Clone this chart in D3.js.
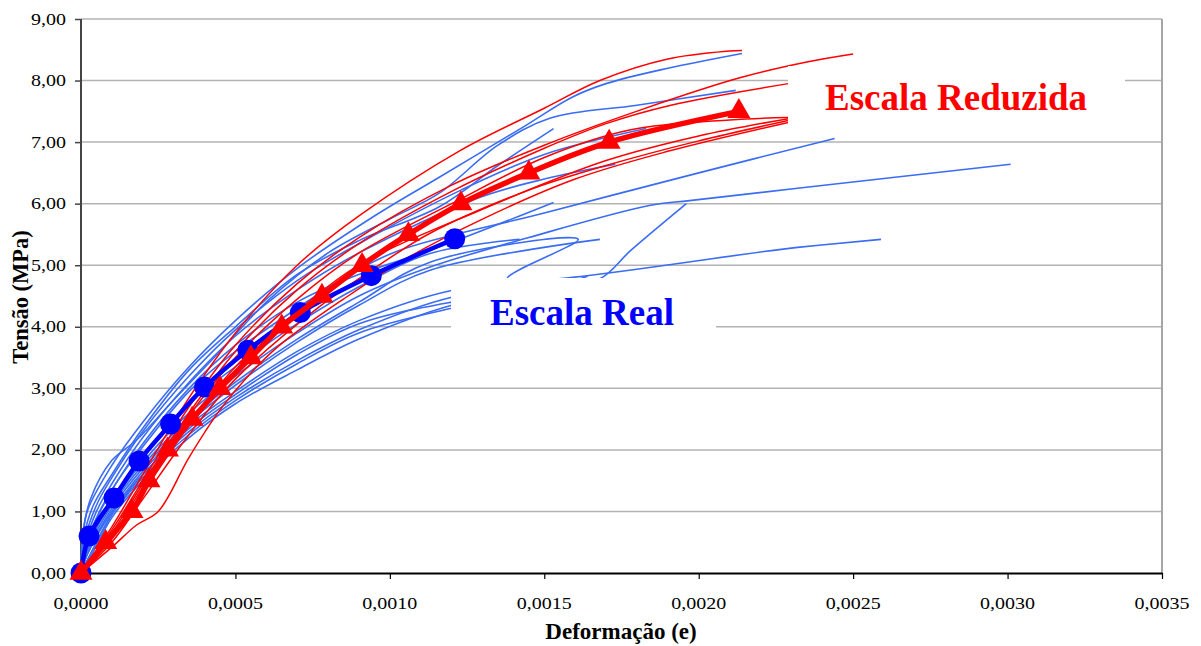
<!DOCTYPE html>
<html>
<head>
<meta charset="utf-8">
<script src="https://cdn.jsdelivr.net/npm/d3@7"></script>
<style>
  body { margin: 0; background: #fff; }
  svg { display: block; }
</style>
</head>
<body>
<div id="chart"></div>
<script>
// axis ticks
var xTicks = [0, 0.0005, 0.0010, 0.0015, 0.0020, 0.0025, 0.0030, 0.0035];
var yTicks = [0, 1, 2, 3, 4, 5, 6, 7, 8, 9];

// mean curves (thick, with markers)
var mediaReal = [[0,0],[0.000026,0.6],[0.000107,1.22],[0.000188,1.82],[0.00029,2.42],[0.0004,3.02],[0.00054,3.62],[0.00071,4.23],[0.00094,4.83],[0.00121,5.43]];
var mediaReduzida = [[0,0],[0.00008,0.5],[0.000165,1.0],[0.00022,1.5],[0.00028,2.0],[0.00036,2.5],[0.00045,3.0],[0.00055,3.5],[0.00065,4.0],[0.00078,4.5],[0.00091,5.0],[0.00106,5.5],[0.00123,6.0],[0.00145,6.5],[0.00171,7.0],[0.00213,7.5]];

// individual specimens - escala real (blue)
var real1 = [[0,0],[0.000005,0.5],[0.00002,1.0],[0.0001,1.75],[0.0002,2.45],[0.00035,3.35],[0.0005,4.1],[0.0007,4.95],[0.00095,5.8],[0.00116,6.43],[0.00143,7.24],[0.00159,7.73],[0.0017,7.95],[0.0019,8.2],[0.00214,8.44]];
var real2 = [[0,0],[0.000005,0.6],[0.00003,1.19],[0.0001,1.83],[0.00018,2.16],[0.0003,2.81],[0.00045,3.6],[0.0006,4.4],[0.0008,5.2],[0.001,5.75],[0.00116,6.17],[0.00135,6.95],[0.00152,7.39],[0.0018,7.6],[0.00212,7.84]];
var real3 = [[0,0],[0.00001,0.6],[0.00004,1.1],[0.0001,1.6],[0.0002,2.35],[0.00035,3.3],[0.0005,4.0],[0.0007,4.85],[0.0009,5.4],[0.00116,5.95],[0.00135,6.62],[0.00153,7.22]];
var real4 = [[0,0],[0.00001,0.5],[0.00005,1.1],[0.0001,1.55],[0.0002,2.3],[0.00035,3.2],[0.0005,3.95],[0.0007,4.75],[0.0009,5.35],[0.00123,6.22],[0.0015,6.8],[0.00183,7.22]];
var real5 = [[0,0],[0.00001,0.4],[0.00005,1.0],[0.0001,1.45],[0.0002,2.2],[0.00035,3.1],[0.0005,3.85],[0.0007,4.6],[0.0009,5.2],[0.00129,6.1],[0.0015,6.4],[0.00173,6.64]];
var real6 = [[0,0],[0.00002,0.5],[0.00006,1.0],[0.0001,1.35],[0.0002,2.1],[0.00035,3.0],[0.0005,3.7],[0.0007,4.4],[0.0009,4.85],[0.00113,5.24],[0.00153,6.02]];
var real7 = [[0,0],[0.00002,0.5],[0.0001,1.35],[0.0002,2.05],[0.00035,2.95],[0.0005,3.6],[0.0007,4.3],[0.00087,4.85],[0.00103,5.24],[0.0015,5.85],[0.002,6.5],[0.00244,7.06]];
var real8 = [[0,0],[0.00002,0.4],[0.0001,1.15],[0.0002,1.8],[0.00035,2.6],[0.0005,3.2],[0.0007,3.9],[0.0009,4.5],[0.00113,4.97],[0.00145,5.45],[0.00184,5.97],[0.00197,6.05],[0.00232,6.25],[0.00301,6.64]];
var real9 = [[0,0],[0.00002,0.35],[0.0001,1.1],[0.0002,1.75],[0.00035,2.5],[0.0005,3.1],[0.0007,3.8],[0.0009,4.4],[0.00113,5.05],[0.00161,5.42],[0.00138,4.78],[0.00232,5.29],[0.00259,5.42]];
var real10 = [[0,0],[0.00002,0.3],[0.0001,1.0],[0.0002,1.6],[0.00035,2.35],[0.0005,2.9],[0.0007,3.55],[0.0009,4.05],[0.0012,4.4],[0.0015,4.6],[0.00168,4.78],[0.00178,5.24],[0.00196,6.0]];
var real11 = [[0,0],[0.00002,0.4],[0.0001,1.2],[0.0002,1.9],[0.00035,2.75],[0.0005,3.35],[0.0007,4.05],[0.0009,4.65],[0.00113,5.19],[0.00142,5.42]];
var real12 = [[0,0],[0.00002,0.3],[0.0001,1.05],[0.0002,1.7],[0.00035,2.45],[0.0005,3.05],[0.0007,3.75],[0.0009,4.35],[0.00113,4.92],[0.00168,5.42]];
var real13 = [[0,0],[0.00002,0.3],[0.0001,1.0],[0.0002,1.65],[0.00035,2.4],[0.0005,2.95],[0.0007,3.6],[0.0009,4.1],[0.0012,4.59],[0.0014,4.7]];
var real14 = [[0,0],[0.00003,0.3],[0.0001,0.95],[0.0002,1.6],[0.00035,2.3],[0.0005,2.85],[0.0007,3.45],[0.0009,3.95],[0.0012,4.48],[0.0014,4.62]];
var real15 = [[0,0],[0.00003,0.25],[0.0001,0.9],[0.0002,1.5],[0.00035,2.2],[0.0005,2.75],[0.0007,3.3],[0.0009,3.8],[0.0012,4.35],[0.0014,4.55]];
var real16 = [[0,0],[0.00003,0.3],[0.0001,0.95],[0.0002,1.55],[0.00035,2.25],[0.0005,2.8],[0.0007,3.4],[0.0009,3.9],[0.0012,4.3],[0.0015,4.6],[0.00164,4.82]];

// individual specimens - escala reduzida (red)
var red1 = [[0,0],[0.0001,0.75],[0.0002,1.6],[0.00035,2.85],[0.0005,3.9],[0.0007,5.0],[0.0009,5.8],[0.00123,6.87],[0.0015,7.55],[0.00168,8.0],[0.0019,8.35],[0.0021,8.48],[0.00214,8.49]];
var red2 = [[0,0],[0.0001,0.7],[0.0002,1.5],[0.00035,2.7],[0.0005,3.7],[0.0007,4.7],[0.0009,5.45],[0.0012,6.3],[0.0015,6.95],[0.00181,7.52],[0.00213,8.04],[0.00235,8.3],[0.0025,8.43]];
var red3 = [[0,0],[0.0001,0.65],[0.0002,1.45],[0.00035,2.6],[0.0005,3.6],[0.0007,4.6],[0.0009,5.35],[0.0012,6.2],[0.0015,6.9],[0.0017,7.3],[0.00191,7.6],[0.00229,7.95]];
var red4 = [[0,0],[0.0001,0.6],[0.0002,1.4],[0.00035,2.55],[0.0005,3.5],[0.0007,4.45],[0.0009,5.2],[0.0012,6.0],[0.0015,6.75],[0.00178,7.2],[0.0021,7.36],[0.00229,7.4]];
var red5 = [[0,0],[0.0001,0.55],[0.0002,1.3],[0.00035,2.4],[0.0005,3.35],[0.0007,4.25],[0.0009,5.0],[0.00129,5.89],[0.0017,6.7],[0.002,7.1],[0.00229,7.38]];
var red6 = [[0,0],[0.0001,0.5],[0.0002,1.2],[0.00035,2.25],[0.0005,3.15],[0.00077,4.32],[0.00095,4.95],[0.00113,5.52],[0.00145,6.22],[0.0017,6.62],[0.002,7.02],[0.00229,7.35]];
var red7 = [[0,0],[0.0001,0.42],[0.00018,0.78],[0.00025,1.0],[0.00035,1.88],[0.00045,2.65],[0.00055,3.25],[0.00065,3.73],[0.00085,4.45],[0.00105,5.1],[0.0013,5.75],[0.0016,6.4],[0.0019,6.85],[0.00229,7.32]];

var realCurves = [real1, real2, real3, real4, real5, real6, real7, real8, real9, real10, real11, real12, real13, real14, real15, real16];
var redCurves = [red1, red2, red3, red4, red5, red6, red7];

var serif = "'Liberation Serif', 'Times New Roman', Times, serif";

var svgWidth = 1201;
var svgHeight = 646;
var margin = {top: 19, right: 39, bottom: 73, left: 81};
var plotWidth = svgWidth - margin.left - margin.right;
var plotHeight = svgHeight - margin.top - margin.bottom;

var svg = d3.select("#chart")
  .append("svg")
  .attr("width", svgWidth)
  .attr("height", svgHeight)
  .attr("font-family", serif)
  .style("font-family", serif);

var plot = svg.append("g")
  .attr("transform", `translate(${margin.left}, ${margin.top})`);

var xScale = d3.scaleLinear().domain([0, 0.0035]).range([0, plotWidth]);
var yScale = d3.scaleLinear().domain([0, 9]).range([plotHeight, 0]);

var fmtX = d => d3.format(".4f")(d).replace(".", ",");
var fmtY = d => d3.format(".2f")(d).replace(".", ",");

// gridlines
plot.append("g")
  .selectAll("line")
  .data(yTicks.slice(1))
  .enter()
  .append("line")
  .attr("x1", 0)
  .attr("x2", plotWidth)
  .attr("y1", d => yScale(d))
  .attr("y2", d => yScale(d))
  .attr("stroke", "#b3b3b3")
  .attr("stroke-width", 1.5);

// right border
plot.append("line")
  .attr("x1", plotWidth).attr("x2", plotWidth)
  .attr("y1", 0).attr("y2", plotHeight)
  .attr("stroke", "#a6a6a6")
  .attr("stroke-width", 2);

// axes
var yAxis = d3.axisLeft(yScale).tickValues(yTicks).tickSize(6).tickFormat("");
var xAxis = d3.axisBottom(xScale).tickValues(xTicks).tickSize(6).tickSizeOuter(0).tickFormat("");

var gy = plot.append("g").call(yAxis);
gy.select(".domain").attr("stroke", "#444").attr("stroke-width", 2).attr("d", `M0,${plotHeight}V0`);
gy.selectAll(".tick line").attr("stroke", "#444").attr("stroke-width", 1.5);

var gx = plot.append("g").attr("transform", `translate(0, ${plotHeight})`).call(xAxis);
gx.select(".domain").attr("stroke", "#000").attr("stroke-width", 2);
gx.selectAll(".tick line").attr("stroke", "#000").attr("stroke-width", 1.2);

// tick labels (drawn a bit wide, like the original)
plot.append("g")
  .selectAll("text")
  .data(yTicks)
  .enter()
  .append("text")
  .attr("transform", d => `translate(-15, ${yScale(d)}) scale(1.25,1)`)
  .attr("dy", "0.35em")
  .attr("text-anchor", "end")
  .attr("font-family", serif)
  .attr("font-size", "16px")
  .attr("fill", "#000")
  .text(fmtY);

plot.append("g")
  .selectAll("text")
  .data(xTicks)
  .enter()
  .append("text")
  .attr("transform", d => `translate(${xScale(d)}, ${plotHeight + 36}) scale(1.25,1)`)
  .attr("text-anchor", "middle")
  .attr("font-family", serif)
  .attr("font-size", "16px")
  .attr("fill", "#000")
  .text(fmtX);

// curves
var line = d3.line()
  .x(d => xScale(d[0]))
  .y(d => yScale(d[1]))
  .curve(d3.curveCatmullRom.alpha(0.5));

var lines = plot.append("g");

lines.selectAll(".real")
  .data(realCurves)
  .enter()
  .append("path")
  .attr("d", line)
  .attr("fill", "none")
  .attr("stroke", "#3a6cf4")
  .attr("stroke-width", 1.6);

lines.selectAll(".red")
  .data(redCurves)
  .enter()
  .append("path")
  .attr("d", line)
  .attr("fill", "none")
  .attr("stroke", "#ff0000")
  .attr("stroke-width", 1.5);

// mean curve escala real
lines.append("path")
  .datum(mediaReal)
  .attr("d", line)
  .attr("fill", "none")
  .attr("stroke", "#0000ff")
  .attr("stroke-width", 4.5);

lines.selectAll("circle")
  .data(mediaReal)
  .enter()
  .append("circle")
  .attr("cx", d => xScale(d[0]))
  .attr("cy", d => yScale(d[1]))
  .attr("r", 10.5)
  .attr("fill", "#0000ff");

// mean curve escala reduzida
lines.append("path")
  .datum(mediaReduzida)
  .attr("d", line)
  .attr("fill", "none")
  .attr("stroke", "#ff0000")
  .attr("stroke-width", 5.5);

lines.selectAll(".tri")
  .data(mediaReduzida)
  .enter()
  .append("path")
  .attr("class", "tri")
  .attr("transform", d => `translate(${xScale(d[0])}, ${yScale(d[1])})`)
  .attr("d", d3.symbol(d3.symbolTriangle, 230))
  .attr("fill", "#ff0000");

// text boxes
svg.append("rect")
  .attr("x", 788).attr("y", 66).attr("width", 337).attr("height", 64)
  .attr("fill", "#fff");
svg.append("text")
  .attr("x", 825).attr("y", 110)
  .attr("font-family", serif)
  .attr("font-size", "37px")
  .attr("font-weight", "bold")
  .attr("fill", "#ff0000")
  .text("Escala Reduzida");

svg.append("rect")
  .attr("x", 451).attr("y", 278).attr("width", 265).attr("height", 67)
  .attr("fill", "#fff");
svg.append("text")
  .attr("x", 490).attr("y", 325)
  .attr("font-family", serif)
  .attr("font-size", "37px")
  .attr("font-weight", "bold")
  .attr("fill", "#0000ff")
  .text("Escala Real");

// axis titles
svg.append("text")
  .attr("x", 621).attr("y", 639)
  .attr("text-anchor", "middle")
  .attr("font-family", serif)
  .attr("font-size", "23px")
  .attr("font-weight", "bold")
  .text("Deformação (e)");

svg.append("text")
  .attr("transform", "translate(28, 297) rotate(-90)")
  .attr("text-anchor", "middle")
  .attr("font-family", serif)
  .attr("font-size", "22.5px")
  .attr("font-weight", "bold")
  .text("Tensão (MPa)");
</script>
</body>
</html>
